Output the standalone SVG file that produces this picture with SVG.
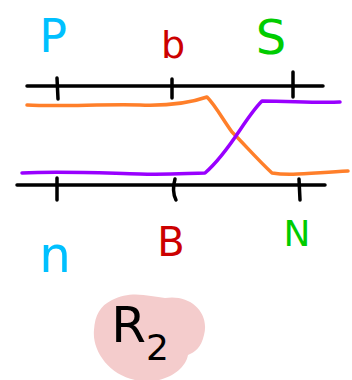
<svg xmlns="http://www.w3.org/2000/svg" width="352" height="380" viewBox="0 0 352 380">
<style>
.ln{fill:none;stroke-linecap:round;stroke-linejoin:round}
.blk{stroke:#000;stroke-width:3.5}
.lbl{font-family:"DejaVu Sans",sans-serif;text-anchor:middle}
</style>
<rect width="352" height="380" fill="#fff"/>
<g id="blob"><path d="M112,300 C130,290 150,296 165,298 C190,294 210,312 204,335 C201,348 195,352 188,355 C185,372 160,386 135,380 C108,374 92,350 94,330 C95,315 100,306 112,300 Z" fill="#f4cccc"/></g>
<g id="connectors">
<path class="ln blk" d="M27,86 L323,86"/>
<path class="ln blk" d="M17,185 L325,185"/>
<path class="ln blk" d="M57,78 L58,99 M172,79 L172,98 M293,72 L293,97"/>
<path class="ln blk" d="M57,178 L57,200 M175,179 C173,186 173,194 176,200 M299,179 L300,200"/>
<path class="ln" stroke="#ff7f2a" stroke-width="3.5" d="M27,105 C60,107 100,104 140,105 C170,106 190,103 207,97 C215,105 222,118 232,132 C245,145 258,160 272,173 C290,176 310,173 348,171"/>
<path class="ln" stroke="#9900ff" stroke-width="3.5" d="M22,173 C60,171 100,173 140,174 C170,175 190,173 205,173 C220,160 232,142 240,130 C248,118 255,108 262,101 C290,101 315,103 340,102"/>
</g>
<g id="P"><text class="lbl" x="53" y="52" font-size="46" fill="#00c0ff">P</text></g>
<g id="b"><text class="lbl" x="173" y="58" font-size="38" fill="#cc0000">b</text></g>
<g id="S"><text class="lbl" x="271" y="54" font-size="48" fill="#00cc00">S</text></g>
<g id="n"><text class="lbl" x="55" y="272" font-size="50" fill="#00c0ff">n</text></g>
<g id="B"><text class="lbl" x="171" y="256" font-size="40" fill="#cc0000">B</text></g>
<g id="N"><text class="lbl" x="297" y="246" font-size="36" fill="#00cc00">N</text></g>
<g id="R2"><text class="lbl" x="140" y="342" font-size="50" fill="#000">R<tspan font-size="36" dy="18">2</tspan></text></g>
</svg>
